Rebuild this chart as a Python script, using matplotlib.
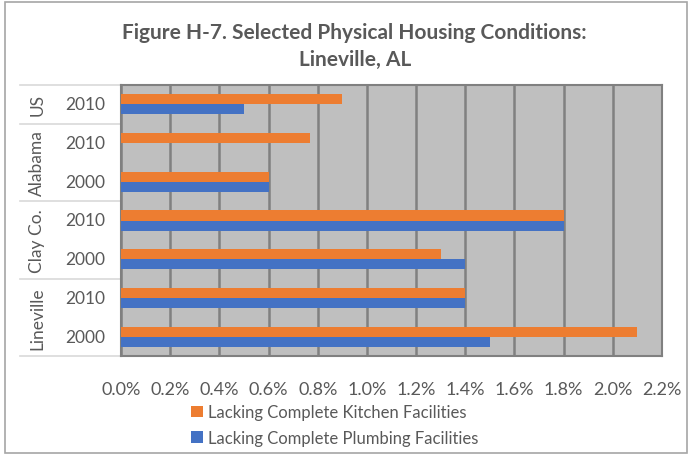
import numpy as np
import matplotlib.pyplot as plt
from matplotlib.patches import Rectangle
from matplotlib.lines import Line2D
from matplotlib.ticker import FuncFormatter

plt.rcParams['font.family'] = ['Lato', 'DejaVu Sans']

# data (percent), bottom to top
years = ['2000', '2010', '2000', '2010', '2000', '2010', '2010']
groups = ['Lineville', 'Clay Co.', 'Alabama', 'US']
group_sizes = [2, 2, 2, 1]
kitchen = [2.1, 1.4, 1.3, 1.8, 0.6, 0.77, 0.9]
plumbing = [1.5, 1.4, 1.4, 1.8, 0.6, 0.0, 0.5]

orange = '#ED7D31'
blue = '#4472C4'
txt = '#595959'

fig = plt.figure(figsize=(6.9, 4.56), dpi=100)
ax = fig.add_axes([121 / 690, 1 - 357 / 456, 541 / 690, 271 / 456])
ax.set_facecolor('#BFBFBF')

y = np.arange(len(years))
h = 0.26
ax.barh(y + h / 2, kitchen, height=h, color=orange, zorder=3,
        label='Lacking Complete Kitchen Facilities')
ax.barh(y - h / 2, plumbing, height=h, color=blue, zorder=3,
        label='Lacking Complete Plumbing Facilities')

ax.set_xlim(0, 2.2)
ax.set_ylim(-0.5, len(years) - 0.5)
ax.set_xticks(np.arange(0, 2.21, 0.2))
ax.xaxis.set_major_formatter(FuncFormatter(lambda v, p: f'{v:.1f}%'))
ax.tick_params(axis='x', length=0, labelsize=13, labelcolor=txt, pad=18)
ax.set_yticks([])
ax.grid(axis='x', color='#808080', linewidth=1.8, zorder=1)
for s in ax.spines.values():
    s.set_color('#808080')
    s.set_linewidth(1.5)

# two-level category labels
for i, yr in enumerate(years):
    ax.text(-0.03, i, yr, transform=ax.get_yaxis_transform(), ha='right',
            va='center', fontsize=12.5, color=txt)
start = 0
bounds = [-0.5]
for g, n in zip(groups, group_sizes):
    mid = start + (n - 1) / 2
    ax.text(-0.155, mid, g, transform=ax.get_yaxis_transform(), ha='center',
            va='center', rotation=90, fontsize=12.5, color=txt)
    start += n
    bounds.append(start - 0.5)
for b in bounds:
    ax.add_line(Line2D([-101 / 541, 0], [b, b], transform=ax.get_yaxis_transform(),
                       color='#D9D9D9', linewidth=1.2, clip_on=False))

fig.text(0.514, 1 - 33 / 456, 'Figure H-7. Selected Physical Housing Conditions:',
         ha='center', va='center', fontsize=15, fontweight='bold', color=txt)
fig.text(0.514, 1 - 60 / 456, 'Lineville, AL',
         ha='center', va='center', fontsize=15, fontweight='bold', color=txt)

fig.legend(loc='center', bbox_to_anchor=(0.485, 1 - 426 / 456), ncol=1,
           frameon=False, fontsize=12, labelcolor=txt, handlelength=0.7,
           handleheight=0.7, handletextpad=0.3, labelspacing=0.55)

fig.patches.append(Rectangle((5 / 690, 2 / 456), 682 / 690, 451 / 456,
                             transform=fig.transFigure, fill=False,
                             edgecolor='#A6A6A6', linewidth=1.2))

fig.savefig('out.png', dpi=100)
